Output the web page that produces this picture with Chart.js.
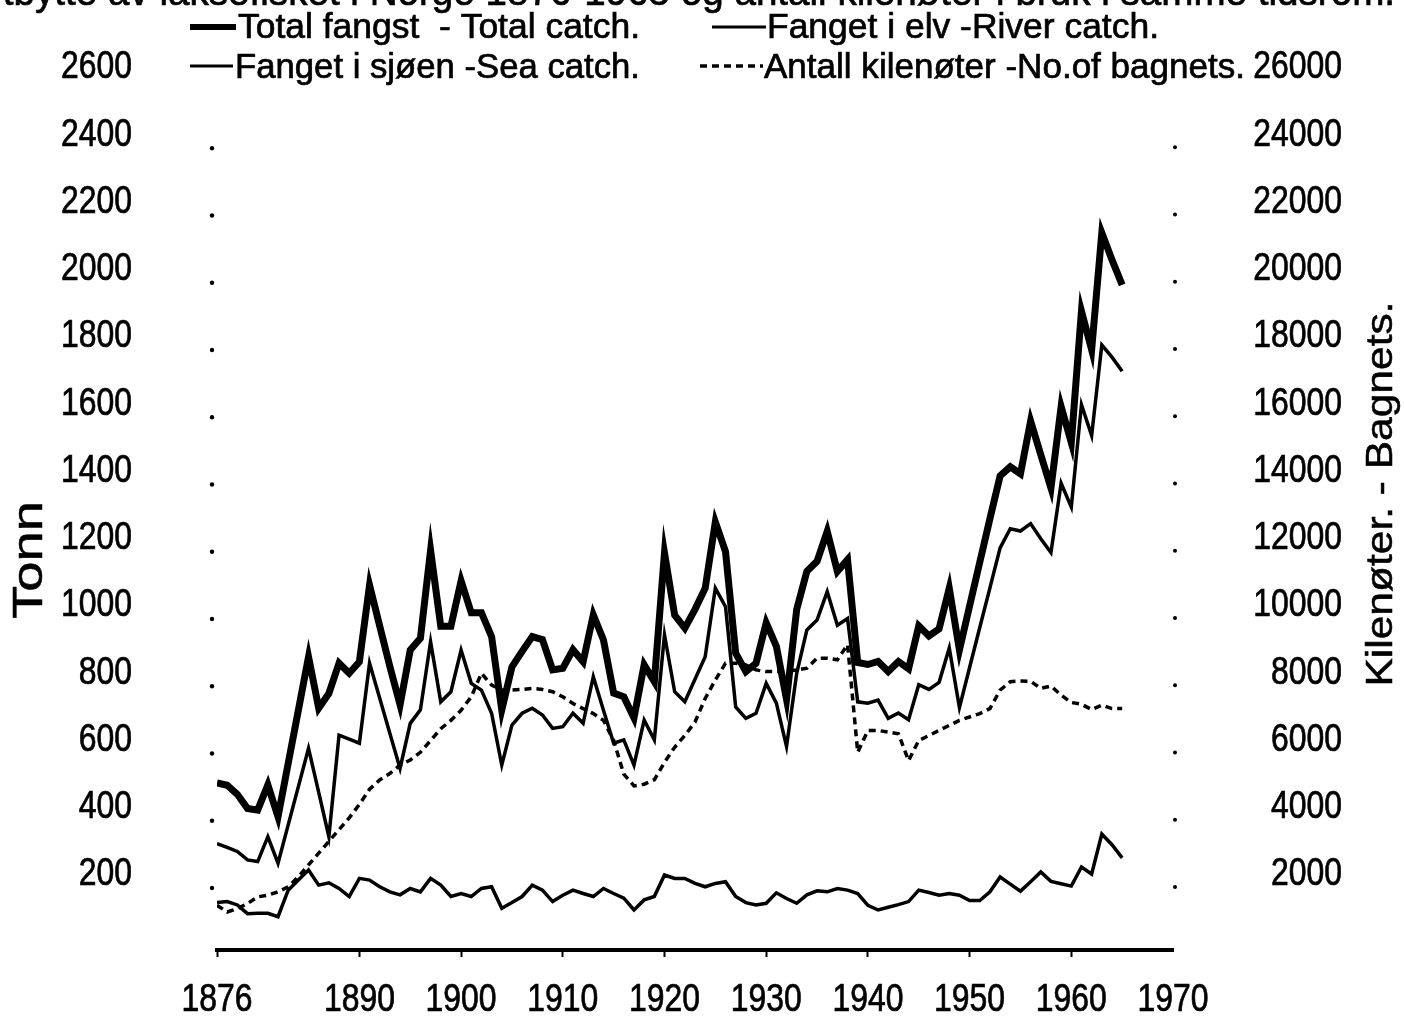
<!DOCTYPE html>
<html><head><meta charset="utf-8">
<script src="https://cdn.jsdelivr.net/npm/chart.js@4.4.1/dist/chart.umd.min.js"></script>
<style>html,body{margin:0;padding:0;background:#fff;}#wrap{position:relative;width:1404px;height:1021px;}</style>
</head><body><div id="wrap"><canvas id="c" width="1404" height="1021"></canvas></div>
<script>
const years = [1876,1877,1878,1879,1880,1881,1882,1883,1884,1885,1886,1887,1888,1889,1890,1891,1892,1893,1894,1895,1896,1897,1898,1899,1900,1901,1902,1903,1904,1905,1906,1907,1908,1909,1910,1911,1912,1913,1914,1915,1916,1917,1918,1919,1920,1921,1922,1923,1924,1925,1926,1927,1928,1929,1930,1931,1932,1933,1934,1935,1936,1937,1938,1939,1940,1941,1942,1943,1944,1945,1946,1947,1948,1949,1950,1951,1952,1953,1954,1955,1956,1957,1958,1959,1960,1961,1962,1963,1964,1965];
const totalCatch = [474,467,440,398,393,468,373,532,690,849,696,740,830,800,834,1062,940,820,706,869,904,1166,940,940,1075,980,980,909,691,819,865,909,900,810,815,870,834,974,899,741,730,667,825,775,1158,973,934,990,1053,1250,1162,860,805,830,950,880,722,990,1103,1133,1222,1103,1138,832,826,835,805,835,813,941,911,932,1053,869,1000,1130,1260,1387,1414,1393,1550,1450,1351,1593,1486,1877,1762,2110,2030,1955];
const seaCatch = [293,282,270,245,240,314,235,349,463,577,446,314,616,604,592,830,726,621,517,651,691,894,715,745,869,770,750,681,527,646,681,696,676,636,641,681,651,790,690,592,602,527,661,602,914,745,715,782,849,1053,998,700,666,681,770,711,582,800,929,958,1043,943,963,715,711,720,666,682,662,766,752,773,875,698,817,936,1054,1173,1230,1223,1245,1200,1159,1365,1294,1599,1507,1776,1740,1698];
const riverCatch = [118,121,111,85,86,86,76,155,185,215,170,177,160,136,190,185,165,150,141,160,150,190,170,136,145,136,160,165,101,118,136,170,155,121,140,155,145,136,160,145,131,96,126,136,200,190,190,175,165,175,180,136,118,111,116,147,130,116,141,153,150,160,155,145,110,96,104,112,121,155,148,140,145,140,124,124,150,194,173,152,180,209,181,174,167,224,203,322,290,251];
const bagnets = [1100,900,1000,1150,1350,1400,1500,1650,1950,2300,2650,3000,3350,3700,4100,4550,4830,5020,5270,5420,5650,6000,6350,6600,6900,7300,8000,7650,7500,7500,7520,7550,7520,7450,7300,7100,6950,6800,6600,6000,5000,4650,4700,4830,5350,5800,6150,6550,7250,7800,8300,8300,8250,8100,8050,8050,8050,8100,8150,8450,8450,8400,8850,5650,6300,6300,6250,6200,5400,6000,6150,6300,6450,6600,6700,6800,6950,7500,7750,7770,7760,7550,7620,7350,7130,7080,6920,7050,6950,6950];
const xTickYears = [1876,1890,1900,1910,1920,1930,1940,1950,1960,1970];
const leftTicks = [200,400,600,800,1000,1200,1400,1600,1800,2000,2200,2400,2600];
const rightTicks = [2000,4000,6000,8000,10000,12000,14000,16000,18000,20000,22000,24000,26000];
const seriesLabels = ["Total fangst  - Total catch.", "Fanget i elv -River catch.", "Fanget i sjøen -Sea catch.", "Antall kilenøter -No.of bagnets."];
const titleText = "Utbytte av laksefisket i Norge 1876-1965 og antall kilenøter i bruk i samme tidsrom.";
const leftTitle = "Tonn";
const rightTitle = "Kilenøter. - Bagnets.";

const FAM = "'Liberation Sans','DejaVu Sans',sans-serif";

function pts(arr){ return years.map((y,i)=>({x:y,y:arr[i]})); }

// draw text squeezed horizontally (narrow lettering of the original)
function drawText(ctx, text, x, y, opts){
  const o = Object.assign({size:38, sx:0.82, align:'left', base:'alphabetic', rot:0, width:null, heavy:0.7}, opts||{});
  ctx.save();
  ctx.font = o.size + 'px ' + FAM;
  const w = ctx.measureText(text).width;
  const sx = o.width ? o.width / w : o.sx;
  ctx.translate(x, y);
  if (o.rot) ctx.rotate(o.rot);
  ctx.scale(sx, 1);
  ctx.textAlign = o.align;
  ctx.textBaseline = o.base;
  ctx.fillStyle = '#000';
  ctx.strokeStyle = '#000';
  ctx.lineWidth = o.heavy;
  ctx.fillText(text, 0, 0);
  if (o.heavy > 0) ctx.strokeText(text, 0, 0);
  ctx.restore();
}
function seg(ctx, x1, x2, y, w, dash){
  ctx.save(); ctx.strokeStyle='#000'; ctx.lineWidth=w; ctx.setLineDash(dash||[]);
  ctx.beginPath(); ctx.moveTo(x1,y); ctx.lineTo(x2,y); ctx.stroke(); ctx.restore();
}

const decor = {
  id: 'decor',
  afterDraw(chart){
    const ctx = chart.ctx, ca = chart.chartArea;
    const xs = chart.scales.x, ys = chart.scales.y, ys2 = chart.scales.y2;
    // title, cut by the top edge
    drawText(ctx, titleText, -25, 5, {size:40, width:1420});
    // legend
    seg(ctx, 190, 236, 27, 6);
    drawText(ctx, seriesLabels[0], 238, 38, {size:35, width:402});
    seg(ctx, 712, 766, 27, 3);
    drawText(ctx, seriesLabels[1], 767, 38, {size:35, width:392});
    seg(ctx, 190, 233, 66, 3);
    drawText(ctx, seriesLabels[2], 235, 78, {size:35, width:405});
    seg(ctx, 700, 763, 66, 3.5, [7,5]);
    drawText(ctx, seriesLabels[3], 764, 78, {size:35, width:481});
    // axis titles
    drawText(ctx, leftTitle, 30, 560, {size:42, width:118, rot:-Math.PI/2, align:'center', base:'middle', heavy:0.5});
    drawText(ctx, rightTitle, 1382, 494, {size:36, width:385, rot:-Math.PI/2, align:'center', base:'middle', heavy:0.5});
    // tick labels
    leftTicks.forEach(v=>{
      drawText(ctx, String(v), 132, ys.getPixelForValue(v), {size:38, sx:0.84, align:'right', base:'middle'});
    });
    rightTicks.forEach(v=>{
      drawText(ctx, String(v), 1342, ys2.getPixelForValue(v), {size:38, sx:0.84, align:'right', base:'middle'});
    });
    xTickYears.forEach(v=>{
      drawText(ctx, String(v), xs.getPixelForValue(v), 1001, {size:38, sx:0.84, align:'center', base:'middle'});
    });
    // small tick dots
    ctx.save(); ctx.fillStyle='#000';
    leftTicks.slice(0, leftTicks.length-1).forEach(v=>{
      const py = ys.getPixelForValue(v) + 13;
      ctx.beginPath(); ctx.arc(ca.left - 5, py, 2.2, 0, Math.PI*2); ctx.fill();
    });
    rightTicks.slice(0, rightTicks.length-1).forEach(v=>{
      const py = ys2.getPixelForValue(v) + 12;
      ctx.beginPath(); ctx.arc(ca.right + 2, py, 2, 0, Math.PI*2); ctx.fill();
    });
    ctx.restore();
  }
};

function noPad(s){ s.paddingTop = 0; s.paddingBottom = 0; s.paddingLeft = 0; s.paddingRight = 0; }

new Chart(document.getElementById('c'), {
  type: 'line',
  data: {
    datasets: [
      {label: seriesLabels[0], data: pts(totalCatch), borderColor:'#000', borderWidth:7, yAxisID:'y'},
      {label: seriesLabels[1], data: pts(riverCatch), borderColor:'#000', borderWidth:3.5, yAxisID:'y'},
      {label: seriesLabels[2], data: pts(seaCatch), borderColor:'#000', borderWidth:3.5, yAxisID:'y'},
      {label: seriesLabels[3], data: pts(bagnets), borderColor:'#000', borderWidth:3.5, borderDash:[7,5], yAxisID:'y2'}
    ]
  },
  options: {
    responsive:false, animation:false, devicePixelRatio:1,
    layout:{padding:{left:0,right:64,top:68,bottom:0}},
    elements:{point:{radius:0,hoverRadius:0}, line:{tension:0, borderJoinStyle:'miter', borderCapStyle:'butt', fill:false}},
    plugins:{legend:{display:false}, title:{display:false}, tooltip:{enabled:false}},
    events:[],
    scales:{
      x:{type:'linear', position:'bottom', min:1876, max:1970,
        afterBuildTicks:s=>{s.ticks = xTickYears.map(v=>({value:v}));},
        afterFit:s=>{s.height = 71; noPad(s);},
        ticks:{display:false, autoSkip:false},
        grid:{drawOnChartArea:false, drawTicks:true, tickLength:7, tickWidth:2, color:c=>(c.tick && c.tick.value===1970)?'rgba(0,0,0,0)':'#000'},
        border:{display:true, color:'#000', width:4}
      },
      y:{type:'linear', position:'left', min:-23, max:2600,
        afterBuildTicks:s=>{s.ticks = leftTicks.map(v=>({value:v}));},
        afterFit:s=>{s.width = 217; noPad(s);},
        ticks:{display:false},
        grid:{display:false, drawTicks:false},
        border:{display:false}
      },
      y2:{type:'linear', position:'right', min:-230, max:26000,
        afterBuildTicks:s=>{s.ticks = rightTicks.map(v=>({value:v}));},
        afterFit:s=>{s.width = 167; noPad(s);},
        ticks:{display:false},
        grid:{display:false, drawTicks:false},
        border:{display:false}
      }
    }
  },
  plugins:[decor]
});
</script></body></html>
